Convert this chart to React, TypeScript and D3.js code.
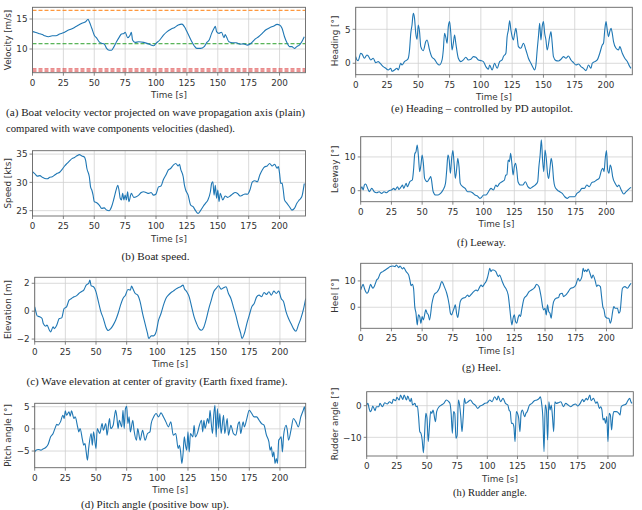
import React from "react";
import * as d3 from "d3";

// ---------- DATA ----------
const X_TICKS = [0, 25, 50, 75, 100, 125, 150, 175, 200];

const velocity: [number, number][] = [
  [0, 12.9], [2, 12.8], [5, 12.6], [8, 12.4], [10, 12.2], [13, 12.05], [16, 12.2], [19, 12.2], [22, 12.5], [25, 12.7],
  [28, 13.05], [31, 13.3], [34, 13.6], [37, 13.95], [40, 14.3], [43, 14.55], [45, 14.95], [46, 14.55], [48, 13.45], [50, 12.3],
  [52, 11.8], [54, 11.2], [56, 10.95], [58, 10.85], [60, 10.1], [62, 9.8], [64, 9.8], [66, 10.4], [68, 11.2], [70, 11.9],
  [72, 12.5], [74, 12.6], [75, 12.8], [77, 11.9], [79, 12.3], [80, 12.8], [81, 11.5], [83, 11.1], [86, 11.2], [90, 11.1],
  [94, 10.85], [98, 10.55], [100, 10.95], [103, 11.5], [106, 12.3], [109, 12.9], [112, 13.3], [115, 13.6], [118, 14.0], [121, 14.15],
  [123, 13.7], [125, 12.9], [127, 12.05], [129, 11.2], [131, 10.5], [133, 10.1], [136, 10.1], [139, 10.4], [141, 11.05], [143, 11.5],
  [145, 12.6], [147, 13.45], [148, 13.8], [149, 12.9], [151, 12.6], [153, 12.8], [155, 11.9], [156, 12.4], [157, 12.05], [159, 11.2],
  [162, 11.05], [165, 11.05], [168, 10.8], [171, 10.85], [174, 10.65], [177, 10.95], [180, 11.6], [183, 12.05], [186, 12.6], [189, 13.2],
  [192, 13.55], [195, 13.8], [198, 14.1], [200, 14.0], [202, 13.45], [204, 12.05], [206, 11.05], [208, 10.4], [210, 10.4], [212, 10.1],
  [214, 10.4], [216, 10.65], [218, 11.2], [220, 12.05],
];
const waveVelocities = [16.45, 10.88, 6.67, 6.33];
const waveColors = ["#ff7f0e", "#2ca02c", "#d62728", "#d62728"];

const speed: [number, number][] = [
  [0, 31.9], [2, 31.5], [4, 31.1], [6, 31.2], [8, 30.9], [10, 30.7], [12, 30.65], [14, 30.9], [16, 31.0], [18, 31.3],
  [20, 31.6], [22, 31.8], [24, 32.3], [26, 32.9], [28, 33.35], [30, 33.8], [32, 34.2], [34, 34.4], [36, 34.7], [38, 34.9],
  [40, 34.65], [42, 34.5], [43, 33.9], [44, 32.5], [46, 31.0], [47, 29.2], [48, 28.65], [49, 27.8], [50, 26.6], [52, 26.4],
  [54, 26.0], [56, 25.4], [58, 25.5], [60, 25.1], [62, 25.0], [64, 25.7], [66, 27.2], [68, 28.9], [69, 29.5], [70, 28.65],
  [71, 27.2], [72, 26.9], [73, 28.05], [74, 26.9], [75, 27.75], [76, 26.9], [77, 28.35], [78, 26.6], [80, 28.05], [82, 27.35],
  [84, 27.45], [86, 27.75], [88, 28.2], [90, 28.35], [92, 28.2], [94, 28.05], [96, 28.2], [98, 27.75], [100, 27.95], [102, 29.2],
  [104, 29.35], [106, 30.5], [108, 31.3], [110, 32.2], [112, 32.5], [114, 33.05], [116, 33.35], [118, 32.9], [119, 33.2], [120, 32.3],
  [122, 31.0], [123, 29.5], [124, 28.65], [126, 27.75], [128, 26.0], [130, 25.7], [132, 25.0], [134, 24.5], [136, 25.0], [138, 25.7],
  [140, 26.3], [142, 26.9], [144, 28.35], [145, 29.8], [146, 30.1], [147, 27.75], [148, 29.5], [149, 27.2], [150, 28.65], [151, 26.6],
  [152, 28.05], [154, 26.9], [156, 27.6], [158, 27.35], [160, 27.6], [162, 27.95], [164, 28.2], [166, 28.05], [168, 27.6], [170, 27.75],
  [172, 27.95], [174, 27.9], [176, 28.65], [178, 30.1], [180, 30.3], [182, 30.1], [184, 31.3], [186, 32.2], [188, 32.75], [190, 32.9],
  [192, 33.35], [194, 32.9], [196, 33.2], [198, 32.5], [199, 32.8], [200, 31.6], [201, 29.8], [202, 29.9], [203, 28.65], [204, 26.9],
  [206, 26.3], [208, 25.7], [210, 25.1], [212, 25.4], [214, 26.3], [216, 26.9], [218, 27.45], [220, 29.8],
];

const elevation: [number, number][] = [
  [0, 0.31], [1, -0.05], [2, -0.34], [4, -0.4], [6, -0.53], [7, -0.89], [9, -1.08], [10, -1.0], [12, -1.37], [13, -1.49],
  [15, -1.13], [16, -1.25], [18, -1.0], [20, -0.53], [22, -0.48], [24, 0.19], [26, 0.31], [28, 0.79], [30, 0.91], [32, 1.03],
  [34, 1.1], [36, 1.27], [38, 1.39], [40, 1.51], [42, 1.87], [44, 1.99], [45, 2.23], [46, 1.82], [48, 1.75], [50, 1.39],
  [52, 0.67], [54, -0.05], [56, -0.53], [58, -1.13], [60, -1.39], [62, -1.25], [64, -1.0], [66, -0.65], [68, -0.17], [70, 0.43],
  [72, 0.91], [74, 1.15], [76, 1.56], [78, 1.51], [79, 1.8], [80, 1.63], [82, 1.27], [84, 1.15], [86, 0.67], [88, -0.17],
  [90, -0.89], [92, -1.6], [93, -1.96], [95, -1.77], [97, -1.77], [99, -1.49], [101, -0.65], [103, -0.17], [105, 0.43], [107, 0.91],
  [109, 1.15], [111, 1.32], [113, 1.44], [115, 1.58], [117, 1.68], [119, 1.75], [121, 1.87], [122, 1.63], [124, 1.39], [126, 1.03],
  [128, 0.31], [130, -0.41], [132, -0.89], [134, -1.25], [136, -1.37], [138, -1.13], [140, -0.53], [142, 0.19], [144, 0.79], [146, 1.39],
  [148, 1.63], [150, 1.82], [152, 1.58], [154, 1.68], [156, 1.75], [158, 1.27], [160, 0.91], [162, 0.31], [164, -0.29], [166, -1.0],
  [168, -1.6], [169, -1.96], [171, -1.6], [173, -0.89], [175, -0.29], [177, 0.31], [179, 0.55], [181, 1.03], [183, 1.15], [185, 1.03],
  [187, 1.34], [189, 1.2], [191, 1.39], [193, 1.15], [195, 1.44], [197, 1.27], [199, 1.44], [201, 0.91], [203, 0.67], [205, -0.05],
  [207, -0.53], [209, -0.89], [211, -1.25], [213, -1.44], [215, -1.0], [217, -0.53], [219, 0.07], [221, 0.91],
];

const pitch: [number, number][] = [
  [0, -5.2], [1, -4.8], [3, -4.65], [5, -4.8], [7, -4.5], [9, -4.2], [11, -3.45], [13, -1.8], [15, -1.05], [17, 0.45],
  [18, 1.05], [19, 0.83], [21, 1.58], [23, 3.08], [24, 2.33], [25, 4.06], [26, 3.08], [28, 3.83], [29, 2.86], [30, 4.06],
  [32, 2.33], [33, 2.7], [35, 0.45], [36, -0.68], [37, 0.08], [39, -2.56], [40, -3.68], [41, -3.3], [42, -5.2], [43, -7.07],
  [44, -4.44], [46, -1.05], [47, -3.68], [48, -0.68], [50, -4.44], [51, 0.08], [53, -1.05], [55, 1.2], [56, -0.3], [58, 1.2],
  [59, -1.43], [61, 2.33], [62, 0.08], [64, 0.83], [65, 2.7], [66, 4.2], [67, 2.7], [68, 0.08], [69, 1.95], [71, 0.45],
  [72, 4.2], [73, 0.08], [74, 4.59], [75, 5.1], [76, 1.2], [77, 2.7], [78, -0.68], [80, 1.95], [81, -0.3], [83, -2.56],
  [84, 0.08], [86, -2.56], [88, -0.3], [90, -2.56], [92, -1.05], [94, -0.68], [95, 1.2], [97, 2.7], [99, 3.46], [101, 2.7],
  [103, 3.61], [105, 2.7], [107, 1.58], [109, 0.45], [111, 1.58], [113, -1.43], [115, -1.05], [117, -4.44], [118, -3.68], [119, -5.2],
  [120, -7.8], [121, -5.56], [122, -1.8], [123, -3.68], [124, -4.8], [125, -0.68], [126, -5.2], [127, -1.05], [129, -1.8], [130, 0.83],
  [131, -1.8], [133, -0.68], [134, 0.45], [136, 1.95], [137, -0.68], [138, 1.95], [139, 0.08], [141, 2.33], [142, 1.2], [143, 4.2],
  [144, 1.2], [145, -1.05], [146, 3.08], [147, 5.34], [148, -1.8], [149, 4.59], [150, 0.08], [151, 3.46], [152, -1.05], [154, 3.08],
  [155, -1.05], [157, 2.33], [158, -1.43], [160, 0.83], [162, -1.05], [164, -1.43], [166, 1.2], [167, 1.58], [168, -1.05], [170, 1.58],
  [171, 0.45], [173, 2.33], [175, 4.2], [177, 3.46], [179, 2.7], [181, 2.7], [183, 1.95], [185, 1.2], [187, 0.83], [189, -1.43],
  [191, -2.93], [192, -4.8], [193, -4.06], [194, -6.3], [195, -5.2], [196, -7.8], [197, -6.7], [198, -7.8], [199, -2.56], [200, -2.18],
  [201, -1.8], [202, -5.2], [203, -1.43], [205, 0.83], [206, -0.3], [207, -2.56], [209, -0.3], [211, 2.33], [213, 1.58], [215, 0.45],
  [217, 2.7], [219, 4.2], [220, 4.96], [221, 2.1],
];

const heading: [number, number][] = [
  [0, 0.98], [1, 0.49], [2, 0.39], [4, 1.47], [5, 1.37], [7, 0.74], [9, 1.23], [10, 1.08], [12, 0.49], [14, 0.74],
  [16, 0.1], [18, 0.25], [20, -0.1], [22, -0.49], [24, -0.74], [26, -0.98], [28, -0.74], [29, -1.18], [31, -0.98], [33, -0.74],
  [34, -0.98], [36, 0.0], [37, -0.25], [39, 0.25], [41, 0.49], [42, 0.74], [43, 1.96], [44, 4.41], [45, 5.64], [46, 7.35],
  [47, 6.62], [48, 4.41], [49, 3.53], [50, 5.64], [51, 4.66], [52, 2.45], [54, 1.86], [56, 3.19], [57, 3.43], [59, 1.96],
  [61, 0.88], [63, 0.59], [65, 0.0], [67, -0.25], [69, 0.49], [70, 1.96], [71, 4.41], [72, 3.82], [73, 2.94], [74, 5.39],
  [75, 6.13], [76, 4.41], [77, 1.96], [78, 2.94], [79, 4.17], [80, 2.94], [82, 0.74], [84, 0.25], [86, 0.49], [88, 0.88],
  [90, 0.49], [92, 0.59], [94, 0.98], [96, 0.88], [98, 0.49], [100, 0.39], [102, 0.25], [104, -0.49], [106, -0.88], [107, -0.25],
  [109, -0.98], [111, 0.0], [113, -0.74], [115, 0.25], [117, 0.49], [118, 0.98], [120, 1.47], [121, 3.92], [122, 4.9], [123, 6.27],
  [124, 4.9], [125, 3.92], [126, 3.43], [127, 4.41], [128, 5.15], [129, 3.92], [130, 2.45], [132, 2.21], [134, 2.94], [136, 1.96],
  [138, 0.74], [140, 0.0], [142, -0.74], [143, -0.98], [144, -0.25], [145, 1.96], [146, 3.92], [147, 5.88], [148, 3.43], [149, 5.39],
  [150, 6.13], [151, 4.41], [152, 3.43], [153, 1.96], [155, 3.92], [156, 4.66], [157, 2.94], [158, 0.98], [160, 0.39], [162, 0.34],
  [164, 0.59], [166, 0.98], [168, 0.74], [170, 1.08], [172, 0.49], [174, 0.1], [176, -0.25], [178, -0.1], [180, -0.49], [182, -0.74],
  [184, -1.08], [186, -0.25], [188, -0.74], [189, 0.0], [191, 0.25], [193, 0.49], [195, 1.47], [197, 2.7], [198, 2.94], [199, 4.9],
  [200, 6.13], [201, 4.9], [202, 3.92], [203, 4.66], [204, 5.15], [205, 4.41], [206, 3.19], [208, 2.21], [210, 1.96], [211, 2.45],
  [213, 1.47], [215, 0.74], [217, 0.25], [219, -0.49], [220, -0.74],
];

const leeway: [number, number][] = [
  [0, 0.4], [1, 1.19], [2, 0.2], [3, 1.68], [4, 1.98], [6, 0.4], [7, -0.3], [9, 0.69], [11, -0.3], [13, -0.59],
  [15, -0.3], [17, -0.79], [19, -0.3], [21, -0.59], [23, 0.0], [25, 0.2], [27, 0.69], [28, 0.2], [30, 1.19], [31, 0.4],
  [33, 1.19], [34, 1.68], [35, 0.69], [37, 2.18], [38, 1.19], [40, 2.67], [42, 3.17], [43, 6.14], [44, 10.89], [45, 11.58],
  [46, 13.56], [47, 10.1], [48, 5.64], [49, 7.62], [50, 10.59], [51, 8.12], [52, 3.66], [54, 2.67], [56, 3.66], [57, 4.16],
  [59, -0.3], [61, -1.29], [63, -1.29], [65, -0.79], [67, 0.2], [69, 2.18], [70, 6.14], [71, 10.59], [72, 9.11], [73, 5.15],
  [74, 9.6], [75, 11.88], [76, 8.12], [77, 3.66], [78, 6.14], [79, 9.6], [80, 7.13], [81, 2.18], [83, 1.19], [85, 0.69],
  [87, -0.3], [89, -0.3], [91, -0.59], [93, -1.29], [95, -1.58], [97, -2.28], [98, -2.08], [100, -1.29], [102, -1.29], [104, -0.3],
  [106, 0.69], [108, 0.2], [110, 1.68], [111, 1.19], [113, 2.18], [115, 2.67], [117, 3.17], [118, 4.65], [119, 4.65], [120, 9.11],
  [121, 8.61], [122, 11.09], [123, 8.12], [124, 4.65], [125, 7.13], [126, 8.12], [127, 6.14], [128, 2.67], [130, 1.68], [132, 1.68],
  [134, 2.67], [136, 1.19], [138, 0.69], [140, 1.19], [142, 1.68], [144, 2.67], [145, 7.13], [146, 10.59], [147, 15.05], [148, 9.11],
  [149, 5.64], [150, 12.08], [151, 9.6], [152, 5.15], [153, 3.66], [154, 6.63], [155, 9.6], [156, 7.62], [157, 3.17], [158, 1.19],
  [160, 0.2], [162, -0.3], [164, -0.79], [166, -1.78], [168, -2.28], [170, -1.78], [172, -1.78], [174, -1.78], [176, -0.79], [178, -0.3],
  [180, 0.69], [182, 0.69], [184, 1.68], [186, 1.19], [188, 2.38], [190, 2.67], [192, 3.17], [194, 3.66], [196, 6.14], [197, 6.63],
  [198, 5.64], [199, 9.6], [200, 11.88], [201, 6.14], [202, 5.15], [203, 7.62], [204, 6.63], [205, 4.16], [207, 2.18], [209, 1.19],
  [210, 1.68], [212, 0.2], [214, -0.99], [216, -0.3], [218, 0.4], [220, 0.99],
];

const heel: [number, number][] = [
  [0, 6.58], [1, 7.85], [2, 8.73], [3, 7.22], [4, 5.95], [5, 5.32], [6, 5.7], [7, 7.22], [8, 8.73], [9, 7.85],
  [10, 7.22], [11, 7.85], [12, 9.11], [13, 10.38], [14, 10.76], [16, 12.91], [18, 13.54], [20, 14.18], [22, 14.81], [24, 15.44],
  [26, 15.7], [28, 15.44], [29, 16.08], [31, 15.06], [32, 15.7], [34, 14.56], [35, 15.06], [37, 13.54], [39, 12.28], [40, 10.38],
  [41, 8.23], [42, 8.73], [43, 7.22], [44, 0.25], [45, -2.28], [46, -6.71], [47, -2.91], [48, -3.54], [49, -6.08], [50, -3.54],
  [51, -4.81], [53, -1.01], [54, -2.28], [55, -2.91], [56, -4.81], [58, 1.52], [60, 4.94], [62, 5.7], [64, 7.22], [66, 9.75],
  [68, 7.85], [70, 5.32], [71, 3.42], [72, 0.89], [73, -2.28], [74, -2.91], [75, -1.65], [76, -0.38], [77, 0.89], [78, -2.28],
  [79, -3.92], [80, -1.01], [81, 2.15], [83, 3.42], [85, 3.67], [87, 4.68], [88, 4.05], [90, 4.94], [92, 5.95], [94, 6.58],
  [95, 6.2], [97, 7.85], [98, 8.48], [99, 7.85], [101, 9.11], [102, 9.75], [103, 11.01], [104, 12.91], [105, 14.81], [106, 13.54],
  [107, 14.18], [108, 14.18], [110, 13.54], [112, 11.65], [113, 12.28], [115, 10.0], [117, 7.85], [118, 7.22], [120, 4.68], [121, 0.89],
  [122, -3.54], [123, -6.71], [124, -4.18], [125, -2.91], [126, -5.44], [127, -6.08], [128, -4.18], [129, -2.91], [130, -3.54], [131, -1.01],
  [133, 3.42], [135, 4.43], [137, 5.95], [139, 6.58], [141, 7.22], [142, 7.85], [143, 8.73], [145, 7.85], [146, 5.95], [147, 3.42],
  [148, 0.25], [149, -1.01], [150, -0.38], [151, -2.91], [152, 0.89], [153, -1.65], [154, -2.28], [155, -4.18], [156, -0.38], [157, 2.15],
  [159, 3.42], [161, 3.67], [162, 4.94], [164, 5.32], [165, 4.05], [167, 4.68], [169, 5.95], [171, 7.22], [173, 7.47], [175, 8.48],
  [177, 11.01], [178, 10.0], [180, 11.65], [181, 14.81], [182, 13.54], [183, 14.18], [184, 13.54], [185, 14.56], [187, 12.28], [188, 11.01],
  [189, 12.28], [191, 9.75], [192, 7.85], [193, 8.48], [195, 7.85], [196, 4.05], [197, 0.25], [198, -1.01], [199, -3.54], [201, -4.18],
  [202, -4.18], [203, -6.08], [204, -4.81], [205, -1.65], [206, 0.25], [207, -0.38], [209, -0.38], [210, -2.28], [211, -1.65], [213, 7.22],
  [215, 7.85], [217, 7.22], [219, 8.48], [220, 9.11],
];

const rudder: [number, number][] = [
  [0, 0.21], [1, 0.74], [2, -0.84], [3, -1.89], [4, -1.37], [5, -0.1], [6, -0.84], [7, -1.58], [8, -0.32], [10, -0.32],
  [11, 0.74], [13, -0.32], [15, 0.95], [17, 0.53], [19, 1.26], [21, 0.74], [22, 2.0], [24, 1.58], [25, 2.63], [27, 1.79],
  [28, 3.37], [30, 2.0], [31, 3.37], [33, 1.79], [34, 3.05], [36, 1.26], [37, 2.32], [38, 0.21], [40, 0.74], [41, -0.32],
  [42, -0.1], [43, -3.47], [44, -8.21], [45, -8.74], [46, -10.84], [47, -14.84], [48, -8.74], [49, -2.42], [50, -4.0], [51, -11.37],
  [52, -6.63], [53, -1.89], [54, -2.42], [55, -1.37], [57, -5.05], [58, -1.89], [60, -0.32], [62, 0.21], [64, 0.74], [66, 1.79],
  [68, 1.26], [69, 0.74], [70, -2.42], [71, -8.74], [72, -1.89], [73, -2.42], [74, -10.32], [75, -9.26], [76, 1.79], [77, 0.21],
  [78, -3.47], [79, -8.21], [80, -3.47], [81, 2.32], [82, 0.74], [84, 1.26], [86, 1.79], [88, 0.74], [90, 0.21], [92, -0.84],
  [94, -0.1], [96, 0.21], [98, 0.74], [100, 0.95], [102, 1.79], [104, 1.26], [106, 2.84], [108, 1.79], [109, 3.05], [111, 1.26],
  [113, 2.32], [115, 0.74], [117, 0.21], [118, -1.37], [119, -1.89], [120, -5.58], [121, -5.58], [122, -6.63], [123, -11.37], [124, -1.89],
  [125, -2.42], [126, -4.0], [127, -8.21], [128, -2.42], [129, -1.37], [131, -3.47], [132, -2.42], [133, -1.89], [135, 0.21], [137, 0.74],
  [139, 1.58], [141, 1.79], [143, 2.32], [144, 2.84], [145, 0.74], [146, -3.47], [147, -14.53], [148, 0.21], [149, -1.37], [150, -10.84],
  [151, 1.26], [152, -1.37], [153, 0.21], [154, -3.47], [155, -8.21], [156, 1.26], [157, 0.74], [159, 0.95], [161, 1.26], [163, -0.32],
  [165, 0.74], [167, 0.21], [169, -0.32], [171, 0.21], [173, 0.53], [175, -0.1], [177, 0.74], [179, 2.0], [180, 1.26], [182, 2.32],
  [183, 1.79], [185, 3.37], [186, 1.58], [188, 2.32], [190, 0.74], [191, 1.26], [193, -0.84], [194, -0.32], [195, -1.37], [196, -4.53],
  [197, -4.0], [198, -5.58], [199, -3.47], [200, -11.37], [201, -2.42], [202, -2.95], [203, -7.68], [204, -3.47], [205, -1.89], [207, -1.89],
  [209, -2.42], [210, -2.95], [211, -0.32], [213, 0.21], [215, 0.53], [216, 1.26], [218, 2.32], [219, 1.26], [220, 0.74],
];

const yLabels = ["Velocity [m/s]", "Speed [kts]", "Elevation [m]", "Pitch angle [°]", "Heading [°]", "Leeway [°]", "Heel [°]", "Rudder angle [°]"];
const yTicks = [[10, 15], [25, 30, 35], [-2, 0, 2], [-5, 0, 5], [0, 5], [0, 10], [0, 10], [-10, 0]];
const yDomains: [number, number][] = [[6.05, 16.95], [24.06, 35.6], [-2.19, 2.43], [-8.76, 5.77], [-1.68, 8.24], [-3.26, 16.0], [-8.0, 16.7], [-15.9, 4.42]];
const series = [velocity, speed, elevation, pitch, heading, leeway, heel, rudder];
const captions = [
  ["(a) Boat velocity vector projected on wave propagation axis (plain)", "compared with wave components velocities (dashed)."],
  ["(b) Boat speed."],
  ["(c) Wave elevation at center of gravity (Earth fixed frame)."],
  ["(d) Pitch angle (positive bow up)."],
  ["(e) Heading – controlled by PD autopilot."],
  ["(f) Leeway."],
  ["(g) Heel."],
  ["(h) Rudder angle."],
];

// ---------- LAYOUT ----------
const W = 642, H = 510;
const X_MAX = 221;
const layout = [
  { l: 32.5, r: 305.5, t: 7.3, b: 72.7, ylx: 8, cap: { x: 6, y: 116, anchor: "start", lens: [299, 229] } },
  { l: 32.5, r: 305.5, t: 150.7, b: 216, ylx: 8, cap: { x: 155.5, y: 260, anchor: "middle", lens: [68] } },
  { l: 34.7, r: 305.7, t: 277.3, b: 341.7, ylx: 8, cap: { x: 157, y: 384.5, anchor: "middle", lens: [261] } },
  { l: 34.7, r: 305.7, t: 403.3, b: 467.7, ylx: 8, cap: { x: 155, y: 508.3, anchor: "middle", lens: [148] } },
  { l: 355.7, r: 632.3, t: 7.3, b: 74.7, ylx: 335, cap: { x: 482, y: 111.5, anchor: "middle", lens: [182] } },
  { l: 360.7, r: 632.3, t: 136.7, b: 201.7, ylx: 335, cap: { x: 481.5, y: 245.5, anchor: "middle", lens: [49] } },
  { l: 360.7, r: 632.3, t: 263.3, b: 328.3, ylx: 335, cap: { x: 481.5, y: 371, anchor: "middle", lens: [39] } },
  { l: 366.7, r: 633.3, t: 391.7, b: 456, ylx: 335, cap: { x: 490, y: 495.5, anchor: "middle", lens: [74] } },
];

const SANS = "'DejaVu Sans', sans-serif";
const SERIF = "'Liberation Serif', 'DejaVu Serif', serif";
const fmt = (v: number) => (v < 0 ? "\u2212" + Math.abs(v) : String(v));

function Panel({ i }: { i: number }) {
  const L = layout[i];
  const x = d3.scaleLinear().domain([0, X_MAX]).range([L.l, L.r]);
  const y = d3.scaleLinear().domain(yDomains[i]).range([L.b, L.t]);
  const line = d3.line<[number, number]>().x((d) => x(d[0])).y((d) => y(d[1])).curve(d3.curveMonotoneX);
  const cid = `clip${i}`;
  return (
    <g>
      <defs>
        <clipPath id={cid}>
          <rect x={L.l} y={L.t} width={L.r - L.l} height={L.b - L.t} />
        </clipPath>
      </defs>
      {X_TICKS.map((t) => (
        <line key={"gx" + t} x1={x(t)} x2={x(t)} y1={L.t} y2={L.b} stroke="#d0d0d0" strokeWidth={0.8} />
      ))}
      {yTicks[i].map((t) => (
        <line key={"gy" + t} x1={L.l} x2={L.r} y1={y(t)} y2={y(t)} stroke="#d0d0d0" strokeWidth={0.8} />
      ))}
      <g clipPath={`url(#${cid})`}>
        {i === 0 &&
          waveVelocities.map((v, k) => (
            <line key={"wv" + k} x1={L.l} x2={L.r} y1={y(v)} y2={y(v)} stroke={waveColors[k]} strokeWidth={1} strokeDasharray="4,2" />
          ))}
        <path d={line(series[i]) || ""} fill="none" stroke="#1f77b4" strokeWidth={1.1} strokeLinejoin="round" />
      </g>
      <rect x={L.l} y={L.t} width={L.r - L.l} height={L.b - L.t} fill="none" stroke="#666" strokeWidth={0.9} />
      {X_TICKS.map((t) => (
        <g key={"xt" + t}>
          <line x1={x(t)} x2={x(t)} y1={L.b} y2={L.b + 3} stroke="#666" strokeWidth={0.8} />
          <text x={x(t)} y={L.b + 13} fontSize={8.8} fontFamily={SANS} fill="#333" textAnchor="middle">{t}</text>
        </g>
      ))}
      {yTicks[i].map((t) => (
        <g key={"yt" + t}>
          <line x1={L.l - 3} x2={L.l} y1={y(t)} y2={y(t)} stroke="#666" strokeWidth={0.8} />
          <text x={L.l - 5} y={y(t) + 3.2} fontSize={8.8} fontFamily={SANS} fill="#333" textAnchor="end">{fmt(t)}</text>
        </g>
      ))}
      <text x={(L.l + L.r) / 2} y={L.b + 25.5} fontSize={8.8} fontFamily={SANS} fill="#333" textAnchor="middle">Time [s]</text>
      <text transform={`translate(${L.ylx + 3},${(L.t + L.b) / 2}) rotate(-90)`} fontSize={8.8} fontFamily={SANS} fill="#333" textAnchor="middle">
        {yLabels[i]}
      </text>
      {captions[i].map((c, k) => (
        <text
          key={"cap" + k}
          x={L.cap.x}
          y={L.cap.y + k * 16}
          fontSize={10}
          fontFamily={SERIF}
          fill="#222"
          textAnchor={L.cap.anchor as any}
          textLength={L.cap.lens[k]}
          lengthAdjust="spacingAndGlyphs"
        >
          {c}
        </text>
      ))}
    </g>
  );
}

export default function App() {
  return (
    <svg width={W} height={H} viewBox={`0 0 ${W} ${H}`} style={{ position: "absolute", left: 0, top: 0, background: "#fff" }}>
      <rect width={W} height={H} fill="#fff" />
      {series.map((_, i) => (
        <Panel key={i} i={i} />
      ))}
    </svg>
  );
}
